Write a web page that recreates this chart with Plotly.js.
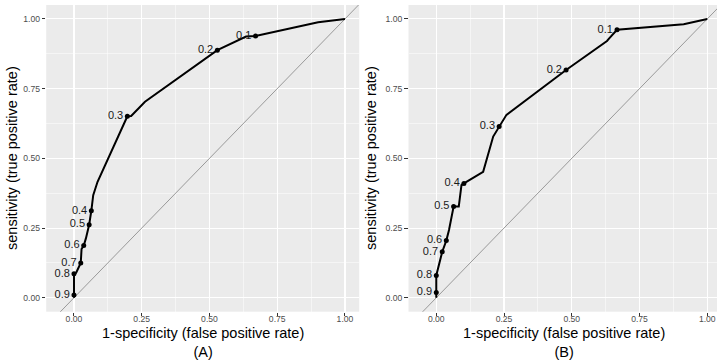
<!DOCTYPE html>
<html>
<head>
<meta charset="utf-8">
<script src="https://cdn.plot.ly/plotly-3.0.1.min.js"></script>
<style>html,body{margin:0;padding:0;background:#fff;}#chart{width:717px;height:361px;}</style>
</head>
<body>
<div id="chart"></div>
<script>
// ROC curve, panel A
var fprA = [0, 0, 0, 0.008, 0.025, 0.028, 0.036, 0.044, 0.056, 0.064, 0.071, 0.087, 0.197, 0.211, 0.262, 0.529, 0.635, 0.670, 0.901, 1];
var tprA = [0, 0.010, 0.086, 0.090, 0.125, 0.175, 0.187, 0.213, 0.262, 0.312, 0.368, 0.416, 0.651, 0.652, 0.703, 0.888, 0.937, 0.939, 0.988, 1];
// cutoff points, panel A
var cutLabels = ['0.1', '0.2', '0.3', '0.4', '0.5', '0.6', '0.7', '0.8', '0.9'];
var cutFprA = [0.670, 0.529, 0.197, 0.064, 0.056, 0.036, 0.025, 0, 0];
var cutTprA = [0.939, 0.888, 0.651, 0.312, 0.262, 0.187, 0.125, 0.086, 0.010];
// ROC curve, panel B
var fprB = [0, 0, 0, 0.022, 0.037, 0.047, 0.064, 0.083, 0.093, 0.102, 0.173, 0.210, 0.232, 0.259, 0.479, 0.630, 0.639, 0.667, 0.913, 1];
var tprB = [0, 0.019, 0.080, 0.165, 0.205, 0.243, 0.327, 0.327, 0.404, 0.410, 0.452, 0.578, 0.614, 0.656, 0.817, 0.921, 0.931, 0.961, 0.981, 1];
// cutoff points, panel B
var cutFprB = [0.667, 0.479, 0.232, 0.102, 0.064, 0.037, 0.022, 0, 0];
var cutTprB = [0.961, 0.817, 0.614, 0.410, 0.327, 0.205, 0.165, 0.080, 0.019];
// reference diagonal
var diag = [-0.2, 1.2];
// ticks
var tickVals = [0, 0.25, 0.5, 0.75, 1];
var tickText = ['0.00', '0.25', '0.50', '0.75', '1.00'];
var xTitle = '1-specificity (false positive rate)';
var yTitle = 'sensitivity (true positive rate)';
var panelTags = ['(A)', '(B)'];

var W = 717, H = 361;
var FONT = 'Liberation Sans, Arial, sans-serif';

function panelTraces(fpr, tpr, cf, ct, xa, ya) {
  return [
    {x: diag, y: diag, xaxis: xa, yaxis: ya, mode: 'lines', line: {color: '#999999', width: 1}, hoverinfo: 'skip', showlegend: false},
    {x: fpr, y: tpr, xaxis: xa, yaxis: ya, mode: 'lines', line: {color: '#000', width: 2}, showlegend: false},
    {x: cf, y: ct, xaxis: xa, yaxis: ya, mode: 'markers+text', text: cutLabels, textposition: 'middle left',
     textfont: {family: FONT, size: 11, color: '#1a1a1a'}, marker: {color: '#000', size: 5}, showlegend: false, cliponaxis: false}
  ];
}

function axis(domain, range, anchor, standoff) {
  return {domain: domain, range: range, anchor: anchor, tickmode: 'array', tickvals: tickVals, ticktext: tickText,
    showgrid: true, gridcolor: '#ffffff', gridwidth: 1.1, zeroline: false, showline: false,
    ticks: 'outside', ticklen: 3.5, tickwidth: 1, tickcolor: '#333333', ticklabelstandoff: standoff,
    tickfont: {family: FONT, size: 8.6, color: '#4d4d4d'},
    minor: {tickmode: 'linear', tick0: 0.125, dtick: 0.25, showgrid: true, gridcolor: '#ffffff', gridwidth: 0.5, ticks: ''},
    fixedrange: true};
}

var yDom = [1 - 311.7 / H, 1 - 5 / H];
var dA = [46.2 / W, 359.2 / W];
var dB = [408.5 / W, 1];

var data = [].concat(
  panelTraces(fprA, tprA, cutFprA, cutTprA, 'x', 'y'),
  panelTraces(fprB, tprB, cutFprB, cutTprB, 'x2', 'y2')
);

var layout = {
  width: W, height: H, margin: {l: 0, r: 0, t: 0, b: 0, pad: 0},
  paper_bgcolor: '#ffffff', plot_bgcolor: '#ebebeb',
  font: {family: FONT},
  showlegend: false,
  xaxis: axis(dA, [-0.1025, 1.0525], 'y', -5),
  yaxis: axis(yDom, [-0.05, 1.05], 'x', 0),
  xaxis2: axis(dB, [-0.1025, 1.036], 'y2', -5),
  yaxis2: axis(yDom, [-0.05, 1.05], 'x2', 0),
  annotations: [
    {text: xTitle + '<br>' + panelTags[0], xref: 'paper', yref: 'paper', x: 202.7 / W, y: 1 - 342 / H,
     xanchor: 'center', yanchor: 'middle', showarrow: false, font: {family: FONT, size: 14.5, color: '#000'}},
    {text: xTitle + '<br>' + panelTags[1], xref: 'paper', yref: 'paper', x: 564 / W, y: 1 - 342 / H,
     xanchor: 'center', yanchor: 'middle', showarrow: false, font: {family: FONT, size: 14.5, color: '#000'}},
    {text: yTitle, xref: 'paper', yref: 'paper', x: 12 / W, y: 1 - 158 / H, textangle: -90,
     xanchor: 'center', yanchor: 'middle', showarrow: false, font: {family: FONT, size: 14.5, color: '#000'}},
    {text: yTitle, xref: 'paper', yref: 'paper', x: 371 / W, y: 1 - 158 / H, textangle: -90,
     xanchor: 'center', yanchor: 'middle', showarrow: false, font: {family: FONT, size: 14.5, color: '#000'}}
  ]
};

Plotly.newPlot('chart', data, layout, {staticPlot: true, displayModeBar: false});
</script>
</body>
</html>
